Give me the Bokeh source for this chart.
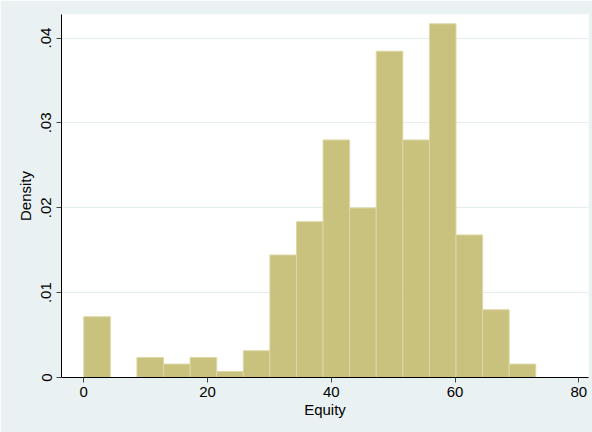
from bokeh.plotting import figure
from bokeh.models import FixedTicker, CustomJSTickFormatter, ColumnDataSource
from bokeh.embed import file_html
from bokeh.resources import INLINE

# Histogram data
bin_start = 0.0
bin_width = 4.297
densities = [0.00716, 0.0, 0.00236, 0.00158, 0.00236, 0.00071, 0.00315,
             0.01443, 0.01836, 0.02799, 0.01998, 0.03844, 0.02799, 0.04167,
             0.01679, 0.00798, 0.00158]

x_ticks = [0, 20, 40, 60, 80]
y_ticks = [0, 0.01, 0.02, 0.03, 0.04]
y_tick_labels = ["0", ".01", ".02", ".03", ".04"]

x_title = "Equity"
y_title = "Density"

lefts = [bin_start + i * bin_width for i in range(len(densities))]
rights = [l + bin_width for l in lefts]
src = ColumnDataSource(dict(left=lefts, right=rights, top=densities,
                            bottom=[0.0] * len(densities)))

FONT = "Liberation Sans"
BG = "#eaf1f3"

p = figure(width=592, height=432, output_backend="svg", toolbar_location=None,
           x_range=(-3.6, 81.57), y_range=(0, 0.04277),
           min_border_left=61, min_border_right=4, min_border_top=14,
           min_border_bottom=55)
p.border_fill_color = BG
p.background_fill_color = "white"
p.outline_line_color = None

p.quad(left="left", right="right", top="top", bottom="bottom", source=src,
       fill_color="#c9c17e", line_color="#ddd7a4", line_width=1)

p.xaxis.ticker = FixedTicker(ticks=x_ticks)
p.yaxis.ticker = FixedTicker(ticks=y_ticks)
p.yaxis.formatter = CustomJSTickFormatter(
    args=dict(tvals=y_ticks, tlabels=y_tick_labels),
    code="""
    for (let i = 0; i < tvals.length; i++) {
        if (Math.abs(tvals[i] - tick) < 1e-9) return tlabels[i];
    }
    return '';
    """)
p.yaxis.major_label_orientation = "vertical"

for ax in (p.xaxis[0], p.yaxis[0]):
    ax.axis_line_color = "black"
    ax.axis_line_width = 1
    ax.major_tick_line_color = "#444444"
    ax.major_tick_out = 5
    ax.major_tick_in = 0
    ax.minor_tick_line_color = None
    ax.major_label_text_font = FONT
    ax.major_label_text_font_size = "15px"
    ax.major_label_text_color = "black"
    ax.axis_label_text_font = FONT
    ax.axis_label_text_font_size = "15px"
    ax.axis_label_text_font_style = "normal"
    ax.axis_label_text_color = "black"

p.xaxis.axis_label = x_title
p.yaxis.axis_label = y_title
p.xaxis.major_label_standoff = 4
p.xaxis.axis_label_standoff = 1
p.yaxis.major_label_standoff = 5
p.yaxis.axis_label_standoff = 5

p.xgrid.grid_line_color = None
p.ygrid.ticker = FixedTicker(ticks=y_ticks[1:])
p.ygrid.grid_line_color = "#e3ecef"
p.ygrid.grid_line_width = 1

open("out.html", "w").write(file_html(p, INLINE))
